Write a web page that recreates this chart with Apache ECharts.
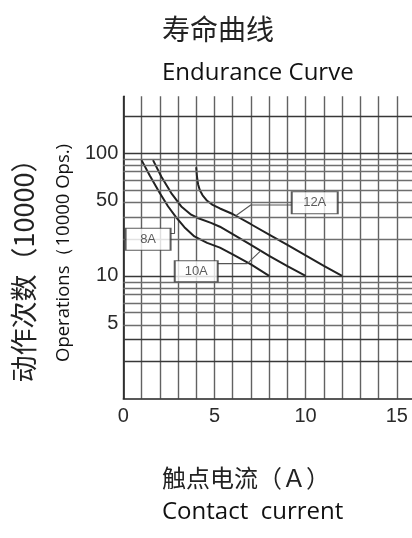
<!DOCTYPE html>
<html><head><meta charset="utf-8">
<script src="https://cdn.jsdelivr.net/npm/echarts@6/dist/echarts.min.js"></script>
<style>html,body{margin:0;padding:0;background:#fff;overflow:hidden}#c{width:418px;height:538px}</style>
</head><body><div id="c"></div>
<script>
// ---- data ----
const xTickLabels = [0, 5, 10, 15];
const yTickLabels = ['5', '10', '50', '100'];
const yTickAt = [4.1, 10, 41, 100];           // where the labels are printed
const yMin = 1, yMax = 292;
const darkLines = [2, 3, 10, 100, 200, 292];
const lightLines = [4, 5, 6, 7, 8, 9, 20, 30, 40, 50, 60, 70, 80, 90];

const x8 = [1.0, 1.45, 2.0, 2.45, 2.9, 3.35, 3.9, 4.6, 5.3, 6, 7, 8];
const y8 = [88, 66, 47.5, 37, 30, 25, 21, 18.6, 17, 15, 12.4, 10];
const x10 = [1.63, 2.09, 2.63, 3.18, 3.72, 4.08, 4.81, 5.3, 6, 7, 8, 9, 10];
const y10 = [88, 64.5, 47.4, 36.9, 31.6, 29.7, 27.1, 25.2, 21.9, 17.9, 14.6, 12, 10];
const x12 = [4.0, 4.04, 4.1, 4.2, 4.35, 4.6, 4.9, 5.3, 6, 7, 8, 9, 10, 11, 12];
const y12 = [77, 65, 56, 50, 45.5, 41, 38, 35.5, 32, 26.4, 21.7, 17.9, 14.7, 12.1, 10];

const boxNames = ['8A', '10A', '12A'];
const boxX = [1.36, 4.0, 10.5];
const boxY = [19.9, 10.9, 39.5];
const lead8X = [2.58, 2.81, 2.81],  lead8Y = [22.2, 22.2, 31];
const lead10X = [5.17, 6.8, 7.53],  lead10Y = [12.6, 12.6, 16];
const lead12X = [9.25, 6.99, 6.17], lead12Y = [37.9, 37.9, 31];

// ---- build ----
const L = Math.log10;
const pts = (xs, ys) => xs.map((x, i) => [x, L(ys[i])]);
const boxSizes = [[45, 22], [43, 21], [46, 22]];

const hLines = darkLines.map(v => ({ yAxis: L(v), lineStyle: { color: '#383838', width: 1.4, type: 'solid' } }))
  .concat(lightLines.map(v => ({ yAxis: L(v), lineStyle: { color: '#6e6e6e', width: 1.4, type: 'solid' } })));

const curve = (name, data) => ({
  type: 'line', name, data, symbol: 'none', smooth: false, z: 4,
  lineStyle: { color: '#222', width: 2 }
});
const leader = (xs, ys) => ({
  type: 'line', data: pts(xs, ys), symbol: 'none', z: 4,
  lineStyle: { color: '#555', width: 1.1 }
});

const chart = echarts.init(document.getElementById('c'), null, { renderer: 'canvas' });
chart.setOption({
  animation: false,
  backgroundColor: '#fff',
  grid: { left: 123.3, right: 0.7, top: 96.3, bottom: 139.5 },
  xAxis: {
    type: 'value', min: 0, max: 16, interval: 1,
    axisLine: { show: true, lineStyle: { color: '#222', width: 1.6 } },
    axisTick: { show: false },
    axisLabel: {
      margin: 8, color: '#2a2a2a', fontSize: 20, fontFamily: 'Liberation Sans, Arial',
      formatter: v => xTickLabels.includes(v) ? String(v) : ''
    },
    splitLine: { show: true, lineStyle: { color: '#626262', width: 1.4 } }
  },
  yAxis: {
    type: 'value', min: L(yMin), max: L(yMax),
    axisLine: { show: true, onZero: false, lineStyle: { color: '#222', width: 1.6 } },
    axisTick: { show: false },
    splitLine: { show: false },
    axisLabel: {
      margin: 5, color: '#2a2a2a', fontSize: 20, fontFamily: 'Liberation Sans, Arial',
      customValues: yTickAt.map(L),
      formatter: v => {
        let best = 0, d = 1e9;
        yTickAt.forEach((t, i) => { const e = Math.abs(L(t) - v); if (e < d) { d = e; best = i; } });
        return yTickLabels[best];
      }
    }
  },
  series: [
    { type: 'line', data: [], z: 1, markLine: { silent: true, symbol: 'none', label: { show: false }, data: hLines } },
    curve('8A', pts(x8, y8)),
    curve('10A', pts(x10, y10)),
    curve('12A', pts(x12, y12)),
    leader(lead8X, lead8Y),
    leader(lead10X, lead10Y),
    leader(lead12X, lead12Y),
    {
      type: 'scatter', z: 6,
      data: boxNames.map((n, i) => ({
        value: [boxX[i], L(boxY[i])], name: n, symbolSize: boxSizes[i]
      })),
      symbol: 'rect',
      itemStyle: { color: '#fff', borderColor: '#333', borderWidth: 1.4 },
      label: { show: true, position: 'inside', formatter: p => p.name, color: '#333', fontSize: 13, fontFamily: 'Liberation Sans, Arial' }
    }
  ],
  graphic: [
    { type: 'text', x: 162, y: 29, style: { text: '寿命曲线', font: '28px "Noto Sans CJK SC"', fill: '#222', textAlign: 'left', textVerticalAlign: 'middle' } },
    { type: 'text', x: 162, y: 73, style: { text: 'Endurance Curve', font: '24px "Open Sans"', fill: '#111', textAlign: 'left', textVerticalAlign: 'middle' } },
    { type: 'text', x: 162, y: 478, style: { text: '触点电流（Ａ）', font: '24px "Noto Sans CJK SC"', fill: '#222', textAlign: 'left', textVerticalAlign: 'middle' } },
    { type: 'text', x: 162, y: 512, style: { text: 'Contact  current', font: '24px "Open Sans"', fill: '#111', textAlign: 'left', textVerticalAlign: 'middle' } },
    { type: 'text', x: 24, y: 264, rotation: Math.PI / 2, style: { text: '动作次数（10000）', font: '27px "Noto Sans CJK SC"', fill: '#222', textAlign: 'center', textVerticalAlign: 'middle' } },
    { type: 'text', x: 63.5, y: 253, rotation: Math.PI / 2, style: { text: 'Operations（10000 Ops.)', font: '18.5px "Open Sans"', fill: '#111', textAlign: 'center', textVerticalAlign: 'middle' } }
  ]
});
</script></body></html>
